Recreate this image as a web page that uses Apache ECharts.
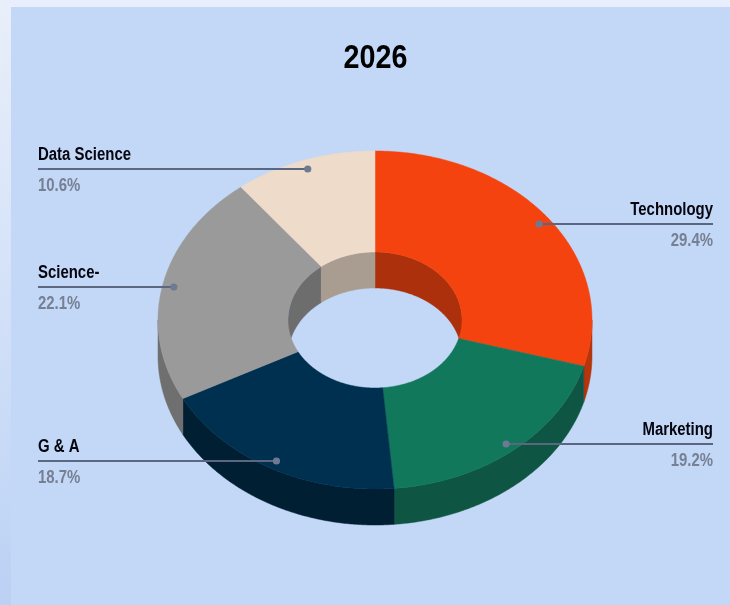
<!DOCTYPE html>
<html><head><meta charset="utf-8">
<style>html,body{margin:0;padding:0;background:#C3D7F6}#c{width:730px;height:605px}</style>
<script src="https://cdn.jsdelivr.net/npm/echarts@6/dist/echarts.min.js"></script>
</head><body><div id="c"></div>
<script>
const titleText = '2026';
const categories = ['Technology', 'Marketing', 'G & A', 'Science-', 'Data Science'];
const shares = [29.4, 19.2, 18.7, 22.1, 10.6];
const topColors = ['#F4430F', '#11785C', '#00304F', '#9A9A9A', '#EEDBC9'];
const outerWallColors = ['#B5350C', '#0E5643', '#001F33', '#6F6F6F', '#A99C90'];
const innerWallColors = ['#AB300B', '#0E5643', '#001F33', '#6D6D6D', '#A99C90'];
const labelSide = ['right', 'right', 'left', 'left', 'left'];

const CX = 375, CY = 320, RX = 217, RY = 169, IRX = 87, IRY = 68, DEPTH = 36;
const LEFT_X = 38, RIGHT_X = 713, DOT_R = 0.948;
const FONT = '"Liberation Sans",Arial,sans-serif';
const SQUEEZE = 0.83;

const total = shares.reduce((a, b) => a + b, 0);
let acc = 0;
const slices = shares.map(v => { const a = acc / total * 360; acc += v; return { a, b: acc / total * 360 }; });

function pt(deg, rx, ry, dy) {
  const t = deg * Math.PI / 180;
  return [CX + rx * Math.sin(t), CY - ry * Math.cos(t) + (dy || 0)];
}
function arc(a, b, rx, ry, dy) {
  const n = Math.max(2, Math.ceil(Math.abs(b - a) * 2)), out = [];
  for (let i = 0; i <= n; i++) out.push(pt(a + (b - a) * i / n, rx, ry, dy));
  return out;
}
function wall(a, b, rx, ry) {
  return arc(a, b, rx, ry, 0).concat(arc(b, a, rx, ry, DEPTH));
}
function poly(points, color) {
  return { type: 'polygon', shape: { points }, style: { fill: color, stroke: color, lineWidth: 0.5 } };
}
const seriesData = categories.map((c, i) => [i]);

function renderWalls(params, api) {
  const i = api.value(0), s = slices[i], kids = [];
  const oa = Math.max(s.a, 90), ob = Math.min(s.b, 270);
  if (ob > oa) kids.push(poly(wall(oa, ob, RX, RY), outerWallColors[i]));
  [[s.a, Math.min(s.b, 90)], [Math.max(s.a, 270), s.b]].forEach(r => {
    if (r[1] > r[0]) kids.push(poly(wall(r[0], r[1], IRX, IRY), innerWallColors[i]));
  });
  return { type: 'group', children: kids };
}
function renderTop(params, api) {
  const i = api.value(0), s = slices[i];
  return poly(arc(s.a, s.b, RX, RY).concat(arc(s.b, s.a, IRX, IRY)), topColors[i]);
}
function renderLeader(params, api) {
  const i = api.value(0), s = slices[i];
  const d = pt((s.a + s.b) / 2, RX * DOT_R, RY * DOT_R);
  const right = labelSide[i] === 'right';
  const x = right ? RIGHT_X : LEFT_X;
  const y = Math.round(d[1] + 0.5);
  const align = right ? 'right' : 'left';
  return { type: 'group', children: [
    { type: 'line', shape: { x1: x, y1: y, x2: d[0], y2: y }, style: { stroke: '#5B6680', lineWidth: 1.8 } },
    { type: 'circle', shape: { cx: d[0], cy: y, r: 3.6 }, style: { fill: '#6E7A92' } },
    { type: 'text', x, y: y - 13.5, scaleX: SQUEEZE, style: { text: categories[i], fill: '#05050F', font: 'bold 18px ' + FONT,
        align, verticalAlign: 'middle' } },
    { type: 'text', x, y: y + 17, scaleX: SQUEEZE, style: { text: shares[i].toFixed(1) + '%', fill: '#768094', font: 'bold 18px ' + FONT,
        align, verticalAlign: 'middle' } }
  ] };
}
const base = { type: 'custom', coordinateSystem: 'none', data: seriesData, silent: true, animation: false };
const chart = echarts.init(document.getElementById('c'), null, { renderer: 'canvas' });
chart.setOption({
  animation: false,
  backgroundColor: '#C3D7F6',
  graphic: [
    { type: 'rect', shape: { x: 0, y: 0, width: 730, height: 7 }, style: { fill: '#E8EEFB' }, z: 0 },
    { type: 'rect', shape: { x: 0, y: 0, width: 11, height: 605 }, z: 0, style: { fill: {
      type: 'linear', x: 0, y: 0, x2: 0, y2: 1,
      colorStops: [{ offset: 0, color: '#E9EFFA' }, { offset: 0.5, color: '#D3E1F8' }, { offset: 0.83, color: '#C3D7F6' }, { offset: 1, color: '#BBD0F3' }] } } },
    { type: 'text', x: 375.5, y: 58.5, scaleX: 0.87, z: 5, style: { text: titleText, fill: '#000',
      font: 'bold 33px ' + FONT, align: 'center', verticalAlign: 'middle' } }
  ],
  series: [
    Object.assign({}, base, { renderItem: renderWalls, z: 2 }),
    Object.assign({}, base, { renderItem: renderTop, z: 3 }),
    Object.assign({}, base, { renderItem: renderLeader, z: 4 })
  ]
});
</script></body></html>
